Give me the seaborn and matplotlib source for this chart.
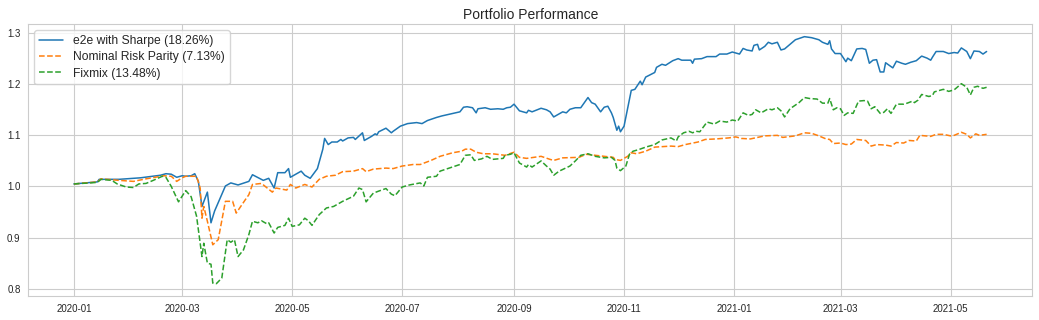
import seaborn as sns
import matplotlib.pyplot as plt
import pandas as pd

# values (days since 2020-01-01, cumulative value)
e2e_days = [0, 13, 14, 25, 37, 48, 51, 54, 57, 60, 62, 65, 67, 69, 71, 74, 76, 78, 84, 87, 91, 97, 99,
            105, 108, 111, 113, 117, 119, 120, 126, 128, 131, 135, 138, 139, 141, 143, 146, 148, 149,
            152, 155, 156, 160, 161, 165, 167, 168, 169, 173, 176, 177, 181, 185, 190, 193, 196, 201,
            204, 209, 214, 216, 218, 221, 223, 224, 228, 231, 235, 238, 240, 242, 244, 247, 251, 252,
            254, 259, 262, 264, 266, 271, 273, 275, 278, 281, 285, 287, 289, 292, 294, 296, 298, 299,
            301, 302, 303, 305, 309, 311, 314, 315, 317, 322, 323, 326, 328, 332, 335, 337, 342, 343,
            344, 348, 351, 356, 358, 362, 365, 369, 371, 373, 376, 377, 379, 380, 383, 385, 387, 390,
            392, 394, 397, 400, 405, 409, 413, 415, 418, 419, 420, 422, 425, 428, 429, 431, 434, 437,
            439, 441, 443, 445, 447, 449, 450, 452, 454, 456, 459, 461, 464, 467, 470, 473, 475, 476,
            478, 482, 485, 488, 490, 492, 495, 497, 499, 502, 504, 506]
e2e_vals = [1.005, 1.009, 1.014, 1.014, 1.017, 1.022, 1.025, 1.024, 1.018, 1.021, 1.020, 1.021, 1.025,
            1.010, 0.961, 0.989, 0.929, 0.952, 1.001, 1.007, 1.003, 1.010, 1.023, 1.012, 1.016, 0.997,
            1.027, 1.027, 1.035, 1.018, 1.030, 1.022, 1.016, 1.035, 1.073, 1.094, 1.082, 1.087, 1.087,
            1.092, 1.089, 1.095, 1.096, 1.092, 1.105, 1.090, 1.098, 1.103, 1.101, 1.107, 1.114, 1.105,
            1.108, 1.118, 1.123, 1.125, 1.123, 1.129, 1.135, 1.138, 1.142, 1.146, 1.155, 1.156, 1.154,
            1.144, 1.152, 1.154, 1.151, 1.152, 1.151, 1.154, 1.155, 1.161, 1.148, 1.144, 1.149, 1.146,
            1.153, 1.150, 1.146, 1.136, 1.146, 1.144, 1.151, 1.154, 1.154, 1.174, 1.164, 1.161, 1.146,
            1.155, 1.157, 1.144, 1.135, 1.110, 1.118, 1.107, 1.118, 1.188, 1.190, 1.206, 1.199, 1.214,
            1.223, 1.233, 1.239, 1.237, 1.246, 1.250, 1.247, 1.247, 1.241, 1.249, 1.250, 1.254, 1.254,
            1.259, 1.259, 1.263, 1.259, 1.270, 1.267, 1.265, 1.276, 1.278, 1.267, 1.274, 1.282, 1.279,
            1.282, 1.267, 1.269, 1.278, 1.287, 1.293, 1.291, 1.287, 1.282, 1.278, 1.285, 1.269, 1.260,
            1.260, 1.244, 1.251, 1.246, 1.269, 1.270, 1.268, 1.241, 1.247, 1.248, 1.224, 1.224, 1.242,
            1.237, 1.232, 1.245, 1.241, 1.239, 1.243, 1.246, 1.255, 1.251, 1.247, 1.253, 1.264, 1.264,
            1.260, 1.262, 1.261, 1.271, 1.264, 1.250, 1.265, 1.264, 1.259, 1.264]

rp_days = [0, 13, 15, 25, 33, 40, 50, 54, 57, 60, 62, 68, 70, 71, 72, 74, 77, 80, 84, 88, 90, 95, 97,
           99, 104, 110, 112, 118, 120, 123, 128, 132, 136, 140, 145, 149, 155, 160, 162, 166, 173, 177,
           182, 188, 192, 198, 203, 210, 215, 217, 220, 223, 227, 232, 239, 244, 247, 251, 259, 264,
           266, 271, 280, 284, 289, 299, 300, 303, 307, 309, 312, 317, 322, 331, 335, 339, 346, 350,
           356, 363, 367, 370, 375, 379, 383, 390, 393, 400, 405, 409, 413, 417, 419, 421, 425, 428,
           431, 434, 439, 442, 445, 450, 453, 456, 460, 463, 467, 469, 475, 478, 482, 486, 488, 492,
           495, 497, 500, 502, 506]
rp_vals = [1.005, 1.009, 1.015, 1.012, 1.010, 1.015, 1.021, 1.020, 1.010, 1.017, 1.020, 1.020, 0.997,
           0.938, 0.961, 0.932, 0.886, 0.896, 0.971, 0.971, 0.948, 0.974, 0.984, 1.004, 1.006, 0.989,
           0.997, 0.993, 1.004, 0.997, 1.004, 0.999, 1.014, 1.020, 1.022, 1.029, 1.030, 1.035, 1.029,
           1.034, 1.036, 1.035, 1.040, 1.043, 1.043, 1.051, 1.059, 1.066, 1.069, 1.073, 1.073, 1.067,
           1.064, 1.064, 1.061, 1.067, 1.057, 1.055, 1.059, 1.053, 1.051, 1.056, 1.057, 1.063, 1.061,
           1.057, 1.053, 1.051, 1.059, 1.066, 1.064, 1.069, 1.077, 1.079, 1.078, 1.082, 1.087, 1.092,
           1.093, 1.095, 1.097, 1.094, 1.093, 1.096, 1.099, 1.100, 1.096, 1.099, 1.105, 1.104, 1.099,
           1.093, 1.092, 1.084, 1.085, 1.082, 1.083, 1.092, 1.090, 1.079, 1.082, 1.081, 1.079, 1.086,
           1.085, 1.090, 1.089, 1.100, 1.098, 1.102, 1.102, 1.099, 1.100, 1.106, 1.102, 1.095, 1.103,
           1.100, 1.102]

fix_days = [0, 13, 15, 21, 24, 29, 33, 36, 40, 44, 49, 51, 54, 58, 62, 65, 68, 71, 72, 74, 76, 77, 79,
            82, 85, 87, 89, 91, 94, 97, 99, 102, 104, 107, 108, 111, 113, 117, 119, 121, 125, 128, 130,
            132, 136, 140, 144, 149, 155, 158, 160, 162, 166, 169, 173, 176, 178, 182, 186, 192, 194,
            196, 201, 203, 208, 214, 217, 220, 222, 226, 229, 232, 238, 239, 242, 244, 247, 251, 252,
            254, 259, 262, 264, 266, 269, 275, 278, 281, 285, 289, 294, 298, 300, 301, 303, 306, 308,
            310, 313, 317, 322, 326, 331, 334, 335, 338, 341, 343, 345, 347, 351, 355, 358, 362, 365,
            368, 371, 374, 376, 378, 381, 385, 387, 390, 392, 394, 397, 402, 405, 408, 412, 415, 418,
            419, 421, 423, 425, 427, 429, 432, 435, 438, 440, 442, 444, 447, 449, 451, 453, 456, 460,
            462, 465, 466, 468, 470, 474, 476, 477, 482, 485, 488, 492, 495, 497, 499, 501, 504, 506]
fix_vals = [1.005, 1.008, 1.014, 1.012, 1.005, 0.999, 0.998, 1.005, 1.006, 1.012, 1.020, 1.018, 1.000,
            0.970, 0.992, 0.980, 0.942, 0.863, 0.889, 0.850, 0.848, 0.811, 0.810, 0.821, 0.896, 0.891,
            0.896, 0.863, 0.876, 0.906, 0.932, 0.929, 0.933, 0.927, 0.929, 0.909, 0.920, 0.924, 0.938,
            0.922, 0.925, 0.938, 0.933, 0.924, 0.945, 0.958, 0.961, 0.971, 0.981, 0.997, 0.994, 0.970,
            0.987, 0.991, 0.996, 0.985, 0.982, 0.999, 1.003, 1.007, 1.001, 1.018, 1.020, 1.030, 1.036,
            1.043, 1.061, 1.062, 1.051, 1.054, 1.059, 1.053, 1.055, 1.061, 1.063, 1.066, 1.046, 1.038,
            1.043, 1.038, 1.050, 1.040, 1.034, 1.022, 1.030, 1.040, 1.050, 1.061, 1.064, 1.059, 1.056,
            1.057, 1.051, 1.036, 1.031, 1.040, 1.063, 1.069, 1.072, 1.077, 1.082, 1.091, 1.095, 1.089,
            1.097, 1.105, 1.108, 1.105, 1.108, 1.107, 1.126, 1.122, 1.128, 1.126, 1.130, 1.128, 1.144,
            1.139, 1.141, 1.150, 1.144, 1.152, 1.150, 1.154, 1.148, 1.136, 1.152, 1.164, 1.174, 1.172,
            1.171, 1.163, 1.163, 1.172, 1.150, 1.154, 1.152, 1.139, 1.144, 1.143, 1.167, 1.168, 1.167,
            1.152, 1.156, 1.143, 1.145, 1.152, 1.143, 1.161, 1.161, 1.163, 1.167, 1.164, 1.169, 1.180,
            1.176, 1.178, 1.185, 1.190, 1.186, 1.189, 1.201, 1.194, 1.179, 1.194, 1.196, 1.192, 1.194]

labels = ['e2e with Sharpe (18.26%)', 'Nominal Risk Parity (7.13%)', 'Fixmix (13.48%)']
start = pd.Timestamp('2020-01-01')

sns.set_style("whitegrid")
plt.rcParams['font.family'] = ['Liberation Sans', 'DejaVu Sans']

fig = plt.figure(figsize=(10.39, 3.2), dpi=100)
ax = fig.add_axes([0.0272, 0.075, 0.9663, 0.849])

series = [(e2e_days, e2e_vals, '-'), (rp_days, rp_vals, '--'), (fix_days, fix_vals, '--')]
for i, (days, vals, ls) in enumerate(series):
    df = pd.DataFrame({'date': start + pd.to_timedelta(days, unit='D'), 'value': vals})
    sns.lineplot(data=df, x='date', y='value', ax=ax, color='C%d' % i, linestyle=ls,
                 linewidth=1.1, label=labels[i])

ax.set_xlabel('')
ax.set_ylabel('')
ax.tick_params(axis='both', labelsize=7, pad=2)
ax.legend(loc='upper left', fontsize=8.7, frameon=True, labelspacing=0.35)
ax.set_title('Portfolio Performance', fontsize=10, pad=4)
fig.savefig('out.png', dpi=100)
